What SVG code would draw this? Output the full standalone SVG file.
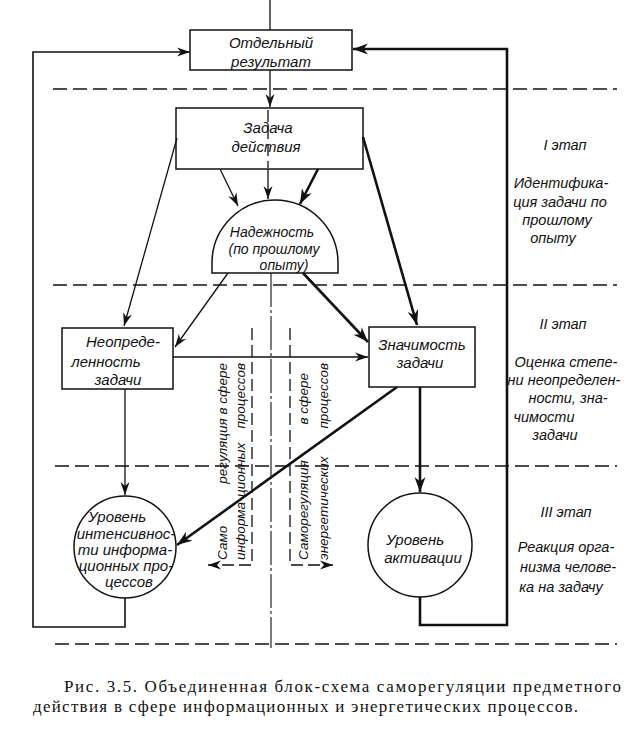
<svg xmlns="http://www.w3.org/2000/svg" width="643" height="731" viewBox="0 0 643 731">
<style>
.t{font-family:"Liberation Sans","DejaVu Sans",sans-serif;font-style:italic;font-size:15px;fill:#111;text-anchor:middle}
.u{font-family:"Liberation Sans","DejaVu Sans",sans-serif;font-style:italic;font-size:14px;fill:#111;text-anchor:middle}
.s{font-family:"Liberation Sans","DejaVu Sans",sans-serif;font-style:italic;font-size:14.5px;fill:#111;text-anchor:middle}
.r{font-family:"Liberation Sans","DejaVu Sans",sans-serif;font-style:italic;font-size:13.5px;fill:#111}
.cap{font-family:"Liberation Serif","DejaVu Serif",serif;font-size:17px;fill:#111}
.box{fill:#fff;stroke:#111;stroke-width:1.5}
.thin{fill:none;stroke:#111;stroke-width:1.3}
.thick{fill:none;stroke:#111;stroke-width:2.6}
.dash{fill:none;stroke:#111;stroke-width:1.6;stroke-dasharray:14 6}
.vd{fill:none;stroke:#111;stroke-width:1.3;stroke-dasharray:12 5}
.cl{fill:none;stroke:#111;stroke-width:1.1;stroke-dasharray:34 3 3 3}
</style>
<defs>
<marker id="a" markerUnits="userSpaceOnUse" markerWidth="14" markerHeight="10" refX="13" refY="5" orient="auto">
<path d="M0,0.5 L13,5 L0,9.5 L4,5 Z" fill="#111"/>
</marker>
<marker id="ab" markerUnits="userSpaceOnUse" markerWidth="16" markerHeight="12" refX="15" refY="6" orient="auto">
<path d="M0,0.5 L15,6 L0,11.5 L4.5,6 Z" fill="#111"/>
</marker>
</defs>

<g id="stage-lines">
<line class="dash" x1="53" y1="89" x2="617" y2="89"/>
<line class="dash" x1="53" y1="285" x2="617" y2="285"/>
<line class="dash" x1="55" y1="466" x2="617" y2="466"/>
<line class="dash" x1="55" y1="644" x2="617" y2="644"/>
</g>

<g id="connectors">
<line class="thin" x1="270" y1="0" x2="270" y2="30"/>
<line class="thin" x1="270" y1="70" x2="270" y2="107" marker-end="url(#a)"/>
<line class="vd" x1="268" y1="110" x2="268" y2="168"/>
<line class="thin" x1="268" y1="169" x2="268" y2="199" marker-end="url(#a)"/>
<line class="cl" x1="271" y1="273" x2="271" y2="648"/>
<line class="thin" x1="220" y1="169" x2="238" y2="206" marker-end="url(#a)"/>
<line class="thick" x1="318" y1="169" x2="300" y2="204" marker-end="url(#ab)"/>
<line class="thin" x1="177" y1="138" x2="124" y2="326" marker-end="url(#a)"/>
<line class="thick" x1="363" y1="137" x2="417" y2="325" marker-end="url(#ab)"/>
<line class="thin" x1="228" y1="273" x2="175" y2="347" marker-end="url(#a)"/>
<line class="thick" x1="303" y1="273" x2="368" y2="342" marker-end="url(#ab)"/>
<line class="thin" x1="173" y1="357" x2="368" y2="357" marker-end="url(#a)"/>
<line class="thin" x1="125" y1="389" x2="125" y2="495" marker-end="url(#a)"/>
<line class="thick" x1="420" y1="387" x2="420" y2="492" marker-end="url(#ab)"/>
<line class="thick" x1="397" y1="387" x2="177" y2="545" marker-end="url(#ab)"/>
<polyline class="thin" points="125,598 125,627 33,627 33,52 190,52" marker-end="url(#a)" style="stroke-width:1.6"/>
<polyline class="thick" points="420,597 420,625 507,625 507,49 353,49" marker-end="url(#ab)"/>
<polyline class="vd" points="252,328 252,565 208,565" marker-end="url(#a)"/>
<polyline class="vd" points="290,328 290,565 333,565" marker-end="url(#a)"/>
</g>

<g id="n-result">
<rect class="box" x="190" y="30" width="162" height="40"/>
<text class="t" x="271" y="48">Отдельный</text>
<text class="t" x="271" y="67">результат</text>
</g>

<g id="n-task">
<rect x="176" y="108" width="187" height="61" fill="none" stroke="#111" stroke-width="1.5"/>
<text class="t" x="268" y="133">Задача</text>
<text class="t" x="266" y="152">действия</text>
</g>

<g id="n-reliability">
<path class="box" d="M212,273 L212,263 A63,63 0 0 1 338,263 L338,273 Z"/>
<text class="u" x="272" y="237">Надежность</text>
<text class="u" x="274" y="254">(по прошлому</text>
<text class="u" x="284" y="270">опыту)</text>
</g>

<g id="n-uncertainty">
<rect class="box" x="62" y="328" width="111" height="61"/>
<text class="t" x="123" y="347">Неопреде-</text>
<text class="t" x="106" y="367">ленность</text>
<text class="t" x="118" y="385">задачи</text>
</g>

<g id="n-significance">
<rect class="box" x="369" y="327" width="106" height="60"/>
<text class="t" x="422" y="350">Значимость</text>
<text class="t" x="420" y="368">задачи</text>
</g>

<g id="n-intensity">
<circle class="box" cx="125" cy="547" r="51"/>
<text class="t" x="117" y="522">Уровень</text>
<text class="t" x="126" y="539">интенсивнос-</text>
<text class="t" x="125" y="555">ти информа-</text>
<text class="t" x="126" y="571">ционных про-</text>
<text class="t" x="129" y="587">цессов</text>
</g>

<g id="n-activation">
<circle class="box" cx="420" cy="545" r="52"/>
<text class="t" x="415" y="545">Уровень</text>
<text class="t" x="423" y="563">активации</text>
</g>

<g id="regulation-labels">
<text class="r" transform="translate(227,560) rotate(-90)"><tspan x="0">Само</tspan><tspan x="197" text-anchor="end"> регуляция в сфере</tspan></text>
<text class="r" transform="translate(245,560) rotate(-90)"><tspan x="0">информа</tspan><tspan x="63">ционных</tspan><tspan x="197" text-anchor="end"> процессов</tspan></text>
<text class="r" transform="translate(308,560) rotate(-90)"><tspan x="0">Саморегуляция</tspan><tspan x="187" text-anchor="end"> в сфере</tspan></text>
<text class="r" transform="translate(328,560) rotate(-90)"><tspan x="0">энергетических</tspan><tspan x="197" text-anchor="end"> процессов</tspan></text>
</g>

<g id="stage-1">
<text class="s" x="565" y="150">I этап</text>
<text class="s" x="561" y="188">Идентифика-</text>
<text class="s" x="560" y="207">ция задачи по</text>
<text class="s" x="557" y="225">прошлому</text>
<text class="s" x="553" y="243">опыту</text>
</g>

<g id="stage-2">
<text class="s" x="563" y="329">II этап</text>
<text class="s" x="566" y="367">Оценка степе-</text>
<text class="s" x="564" y="385">ни неопределен-</text>
<text class="s" x="568" y="403">ности, зна-</text>
<text class="s" x="544" y="422">чимости</text>
<text class="s" x="555" y="440">задачи</text>
</g>

<g id="stage-3">
<text class="s" x="566" y="517">III этап</text>
<text class="s" x="566" y="552">Реакция орга-</text>
<text class="s" x="568" y="572">низма челове-</text>
<text class="s" x="561" y="592">ка на задачу</text>
</g>

<g id="caption">
<text class="cap" x="64" y="692" textLength="557" lengthAdjust="spacing">Рис. 3.5. Объединенная блок-схема саморегуляции предметного</text>
<text class="cap" x="33" y="712" textLength="545" lengthAdjust="spacing">действия в сфере информационных и энергетических процессов.</text>
</g>
</svg>
